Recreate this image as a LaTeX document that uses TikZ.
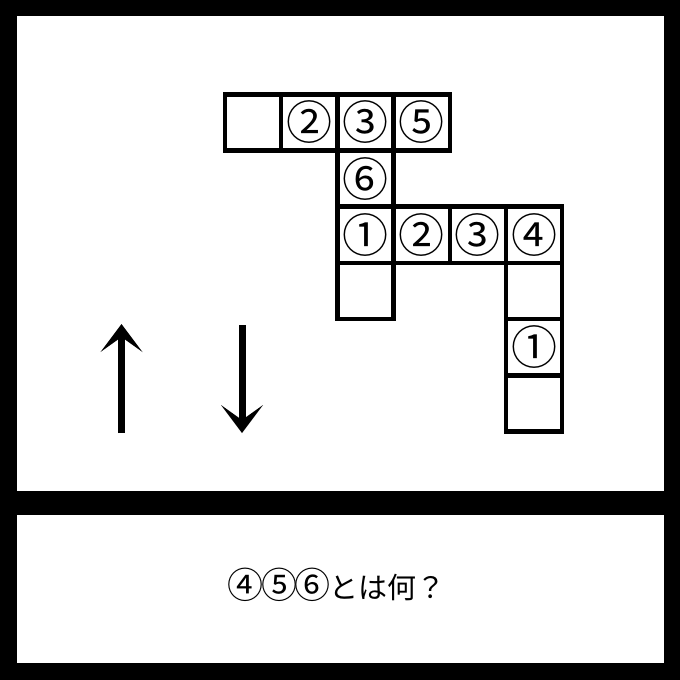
\documentclass[tikz,border=0pt]{standalone}
\usepackage{fontspec}
\newfontfamily\jpfont{Noto Sans CJK JP}
\usetikzlibrary{arrows.meta}
\newcommand{\cdig}[1]{\makebox[33.5pt]{\fontsize{36}{36}\selectfont #1}}
\begin{document}
\begin{tikzpicture}[x=1pt,y=-1pt,
  cell/.style={draw=black, fill=white, line width=4.5pt, minimum size=56.2pt, inner sep=0pt, outer sep=0pt,
    font=\jpfont\fontsize{46}{46}\selectfont},
  bigarrow/.style={line width=7pt, -{Stealth[length=28pt,width=42pt,inset=15pt,line width=0pt]}},
  question/.style={font=\jpfont\fontsize{29}{29}\selectfont, inner sep=0pt}]
\useasboundingbox (0,0) rectangle (680,680);
\fill[black] (0,0) rectangle (680,680);
\fill[white] (17,16) rectangle (664,491);
\fill[white] (17,515) rectangle (664,663);
% grid cells
\node[cell] (a00) at (253.1,122.35) {};
\node[cell] (a10) at (309.3,122.35) {②};
\node[cell] (a20) at (365.5,122.35) {③};
\node[cell] (a30) at (421.7,122.35) {⑤};
\node[cell] (a21) at (365.5,178.55) {⑥};
\node[cell] (a22) at (365.5,234.75) {①};
\node[cell] (a32) at (421.7,234.75) {②};
\node[cell] (a42) at (477.9,234.75) {③};
\node[cell] (a52) at (534.1,234.75) {④};
\node[cell] (a23) at (365.5,290.95) {};
\node[cell] (a53) at (534.1,290.95) {};
\node[cell] (a54) at (534.1,347.15) {①};
\node[cell] (a55) at (534.1,403.35) {};
% arrows
\coordinate (upfrom) at (121.5,433);
\coordinate (upto) at (121.5,324);
\coordinate (downfrom) at (242,325);
\coordinate (downto) at (242,433);
\draw[bigarrow] (upfrom) -- (upto);
\draw[bigarrow] (downfrom) -- (downto);
% question
\node[question] (q) at (337,585) {\cdig{④}\cdig{⑤}\cdig{⑥}とは何？};
\end{tikzpicture}
\end{document}
